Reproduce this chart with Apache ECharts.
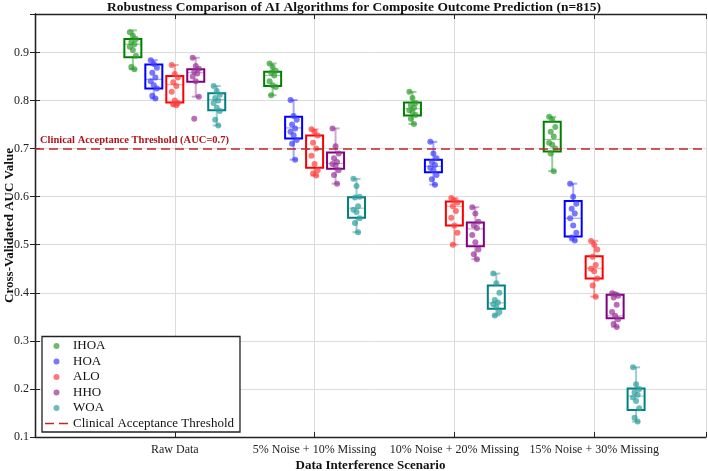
<!DOCTYPE html>
<html>
<head>
<meta charset="utf-8">
<script src="https://cdn.jsdelivr.net/npm/echarts@6/dist/echarts.min.js"></script>
<style>
  html, body { margin: 0; padding: 0; background: #fff; }
  #main { width: 708px; height: 471px; }
</style>
</head>
<body>
<div id="main"></div>
<script>
var myChart = echarts.init(document.getElementById('main'));

// scenarios on the x axis (placed at 1..4)
var scenarios = ['Raw Data', '5% Noise + 10% Missing', '10% Noise + 20% Missing', '15% Noise + 30% Missing'];
var algorithms = ['IHOA', 'HOA', 'ALO', 'HHO', 'WOA'];
var threshold = 0.7;

// box stats per scenario: [min, Q1, median, Q3, max]
var ihoaBox = [[0.865, 0.890, 0.917, 0.928, 0.946], [0.811, 0.830, 0.852, 0.860, 0.877], [0.751, 0.769, 0.783, 0.796, 0.818], [0.653, 0.694, 0.719, 0.756, 0.766]];
var hoaBox  = [[0.804, 0.825, 0.844, 0.875, 0.884], [0.677, 0.721, 0.743, 0.766, 0.801], [0.625, 0.651, 0.663, 0.677, 0.714], [0.509, 0.517, 0.555, 0.591, 0.627]];
var aloBox  = [[0.790, 0.796, 0.833, 0.851, 0.874], [0.644, 0.660, 0.699, 0.727, 0.740], [0.500, 0.540, 0.580, 0.590, 0.597], [0.392, 0.430, 0.451, 0.476, 0.508]];
var hhoBox  = [[0.808, 0.839, 0.858, 0.865, 0.889], [0.627, 0.658, 0.669, 0.692, 0.742], [0.470, 0.497, 0.533, 0.546, 0.578], [0.329, 0.347, 0.352, 0.396, 0.399]];
var woaBox  = [[0.748, 0.780, 0.802, 0.815, 0.830], [0.526, 0.556, 0.576, 0.599, 0.637], [0.353, 0.367, 0.379, 0.415, 0.440], [0.132, 0.156, 0.185, 0.201, 0.245]];

// individual fold AUC values per scenario
var ihoaPts = [
  [0.942, 0.935, 0.928, 0.922, 0.917, 0.912, 0.905, 0.893, 0.870, 0.865],
  [0.877, 0.870, 0.862, 0.858, 0.852, 0.840, 0.832, 0.828, 0.811],
  [0.818, 0.805, 0.795, 0.790, 0.785, 0.780, 0.776, 0.770, 0.762, 0.751],
  [0.766, 0.760, 0.745, 0.735, 0.725, 0.712, 0.708, 0.700, 0.690, 0.653]
];
var hoaPts = [
  [0.884, 0.876, 0.868, 0.858, 0.848, 0.840, 0.832, 0.825, 0.810, 0.804],
  [0.801, 0.768, 0.760, 0.750, 0.742, 0.735, 0.728, 0.718, 0.710, 0.677],
  [0.714, 0.690, 0.680, 0.672, 0.666, 0.660, 0.655, 0.645, 0.636, 0.625],
  [0.627, 0.600, 0.585, 0.575, 0.565, 0.555, 0.540, 0.525, 0.515, 0.509]
];
var aloPts = [
  [0.874, 0.855, 0.848, 0.838, 0.830, 0.818, 0.800, 0.795, 0.792, 0.790],
  [0.740, 0.735, 0.727, 0.712, 0.700, 0.685, 0.668, 0.655, 0.648, 0.644],
  [0.597, 0.592, 0.588, 0.580, 0.570, 0.556, 0.540, 0.525, 0.500],
  [0.508, 0.500, 0.490, 0.475, 0.458, 0.450, 0.445, 0.430, 0.415, 0.392]
];
var hhoPts = [
  [0.889, 0.872, 0.866, 0.860, 0.856, 0.850, 0.840, 0.808, 0.762],
  [0.742, 0.705, 0.690, 0.680, 0.672, 0.668, 0.665, 0.655, 0.645, 0.627],
  [0.578, 0.565, 0.548, 0.540, 0.535, 0.520, 0.505, 0.490, 0.480, 0.470],
  [0.399, 0.397, 0.394, 0.390, 0.375, 0.360, 0.352, 0.345, 0.335, 0.329]
];
var woaPts = [
  [0.830, 0.820, 0.812, 0.805, 0.800, 0.795, 0.785, 0.778, 0.760, 0.748],
  [0.637, 0.622, 0.600, 0.598, 0.580, 0.573, 0.568, 0.555, 0.545, 0.526],
  [0.440, 0.420, 0.400, 0.385, 0.380, 0.376, 0.370, 0.360, 0.353],
  [0.245, 0.210, 0.200, 0.193, 0.188, 0.182, 0.175, 0.160, 0.140, 0.132]
];

var allBoxes = [ihoaBox, hoaBox, aloBox, hhoBox, woaBox];
var allPts = [ihoaPts, hoaPts, aloPts, hhoPts, woaPts];

var boxColors = ['#008000', '#0000ff', '#ff0000', '#800080', '#008080'];
var ptColors = ['#2e9e2e', '#3d3dff', '#ff3d3d', '#993399', '#2e9e9e'];
var fadeColors = ['rgba(0,128,0,0.4)', 'rgba(0,0,255,0.35)', 'rgba(255,0,0,0.35)', 'rgba(128,0,128,0.35)', 'rgba(0,128,128,0.4)'];
var offsets = [-0.3, -0.15, 0, 0.15, 0.3];
var FONT = 'Liberation Serif';

function makeRender(k) {
  return function (params, api) {
    var x = api.value(0);
    var lo = api.coord([x, api.value(1)]);
    var q1 = api.coord([x, api.value(2)]);
    var md = api.coord([x, api.value(3)]);
    var q3 = api.coord([x, api.value(4)]);
    var hi = api.coord([x, api.value(5)]);
    var cx = lo[0], half = 8.5, cap = 4;
    var fade = { stroke: fadeColors[k], lineWidth: 2 };
    return {
      type: 'group',
      children: [
        { type: 'line', shape: { x1: cx, y1: hi[1], x2: cx, y2: q3[1] }, style: fade },
        { type: 'line', shape: { x1: cx, y1: q1[1], x2: cx, y2: lo[1] }, style: fade },
        { type: 'line', shape: { x1: cx - cap, y1: hi[1], x2: cx + cap, y2: hi[1] }, style: fade },
        { type: 'line', shape: { x1: cx - cap, y1: lo[1], x2: cx + cap, y2: lo[1] }, style: fade },
        { type: 'rect', shape: { x: cx - half, y: q3[1], width: half * 2, height: q1[1] - q3[1] },
          style: { fill: 'rgba(255,255,255,0)', stroke: boxColors[k], lineWidth: 2 } },
        { type: 'line', shape: { x1: cx - half, y1: md[1], x2: cx + half, y2: md[1] },
          style: { stroke: fadeColors[k], lineWidth: 1.2 } }
      ]
    };
  };
}

var series = [];
algorithms.forEach(function (name, k) {
  var boxData = allBoxes[k].map(function (b, s) {
    return [s + 1 + offsets[k]].concat(b);
  });
  series.push({
    name: name + ' box',
    type: 'custom',
    renderItem: makeRender(k),
    data: boxData,
    encode: { x: 0, y: [1, 5] },
    z: 2,
    silent: true
  });
});
algorithms.forEach(function (name, k) {
  var pts = [];
  allPts[k].forEach(function (vals, s) {
    vals.forEach(function (v, i) {
      var jitter = ((i * 7) % 5 - 2) * 0.011;
      pts.push([s + 1 + offsets[k] + jitter, v]);
    });
  });
  series.push({
    name: name,
    type: 'scatter',
    data: pts,
    symbol: 'circle',
    symbolSize: 6,
    itemStyle: { color: ptColors[k], opacity: 0.7 },
    z: 3
  });
});
// threshold drawn as a markLine so it spans the plot and carries its label
series.push({
  name: 'Clinical Acceptance Threshold',
  type: 'line',
  data: [],
  symbol: 'none',
  lineStyle: { color: '#c0272d', width: 1.6, type: [9, 5] },
  itemStyle: { color: '#c0272d' },
  z: 4,
  markLine: {
    silent: true,
    symbol: 'none',
    z: 4,
    lineStyle: { color: '#c0272d', width: 1.6, type: [9, 5] },
    data: [{ yAxis: threshold }],
    label: {
      show: true,
      position: 'insideStartTop',
      distance: [5, 3],
      formatter: 'Clinical Acceptance Threshold (AUC=0.7)',
      color: '#b3141b',
      fontFamily: FONT,
      fontWeight: 'bold',
      fontSize: 10.5
    }
  }
});

var legendData = algorithms.map(function (a) { return { name: a }; });
legendData.push({
  name: 'Clinical Acceptance Threshold',
  icon: 'path://M0,0L0,6Z M0,2.2H9V3.8H0Z M14,2.2H23V3.8H14Z'
});

var option = {
  backgroundColor: '#fff',
  animation: false,
  title: {
    text: 'Robustness Comparison of AI Algorithms for Composite Outcome Prediction (n=815)',
    left: 'center',
    top: 1,
    padding: [0, 0, 0, 34],
    textStyle: { fontFamily: FONT, fontWeight: 'bold', fontSize: 13.5, color: '#111' }
  },
  grid: { left: 35, right: 2, top: 14, bottom: 34, outerBoundsMode: 'none' },
  legend: {
    data: legendData,
    orient: 'vertical',
    left: 42,
    bottom: 39,
    itemWidth: 23,
    itemHeight: 6,
    itemGap: 2.5,
    padding: [3, 6, 2, 3],
    backgroundColor: '#fff',
    borderColor: '#222',
    borderWidth: 1.3,
    borderRadius: 0,
    textStyle: { fontFamily: FONT, fontSize: 13, color: '#111', lineHeight: 13 }
  },
  xAxis: [{
    type: 'value',
    min: 0,
    max: 4.8,
    interval: 1,
    name: 'Data Interference Scenario',
    nameLocation: 'middle',
    nameGap: 22,
    nameMoveOverlap: false,
    nameTextStyle: { fontFamily: FONT, fontWeight: 'bold', fontSize: 13, color: '#111' },
    axisLine: { lineStyle: { color: '#222', width: 1.3 } },
    axisTick: { inside: true, length: 5, lineStyle: { color: '#222' } },
    axisLabel: {
      fontFamily: FONT, fontSize: 12, color: '#222', margin: 7,
      formatter: function (v) { return scenarios[Math.round(v) - 1] || ''; }
    },
    splitLine: { show: true, lineStyle: { color: '#dcdcdc', width: 1 } }
  }, {
    type: 'value',
    position: 'top',
    min: 0,
    max: 4.8,
    interval: 1,
    axisLine: { show: true, lineStyle: { color: '#222', width: 1.3 } },
    axisTick: { show: true, inside: true, length: 5, lineStyle: { color: '#222' } },
    axisLabel: { show: false },
    splitLine: { show: false }
  }],
  yAxis: [{
    type: 'value',
    min: 0.1,
    max: 0.98,
    interval: 0.1,
    name: 'Cross-Validated AUC Value',
    nameLocation: 'middle',
    nameGap: 19,
    nameMoveOverlap: false,
    nameTextStyle: { fontFamily: FONT, fontWeight: 'bold', fontSize: 13, color: '#111' },
    axisLine: { show: true, lineStyle: { color: '#222', width: 1.3 } },
    axisTick: { show: true, inside: true, length: 5, lineStyle: { color: '#222' } },
    axisLabel: {
      fontFamily: FONT, fontSize: 12, color: '#222', margin: 6,
      showMaxLabel: false,
      formatter: function (v) {
        return Math.abs(v * 10 - Math.round(v * 10)) < 1e-6 ? v.toFixed(1) : '';
      }
    },
    splitLine: { show: true, lineStyle: { color: '#dcdcdc', width: 1 } }
  }, {
    type: 'value',
    position: 'right',
    min: 0.1,
    max: 0.98,
    interval: 0.1,
    axisLine: { show: true, lineStyle: { color: '#222', width: 1.3 } },
    axisTick: { show: true, inside: true, length: 5, lineStyle: { color: '#222' } },
    axisLabel: { show: false },
    splitLine: { show: false }
  }],
  series: series
};

myChart.setOption(option);
window.onresize = myChart.resize;
</script>
</body>
</html>
